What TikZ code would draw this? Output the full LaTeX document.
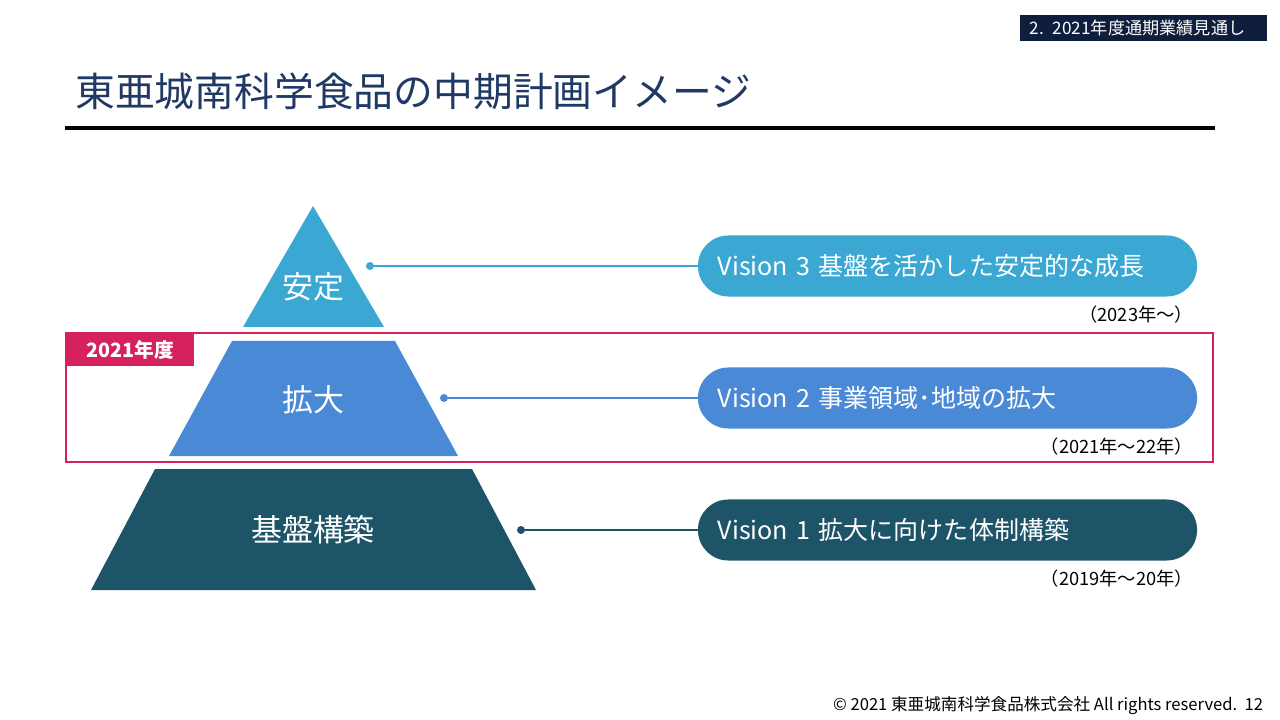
\documentclass[tikz,border=0pt]{standalone}
\usepackage{fontspec}
\setmainfont{Noto Sans CJK JP}
\definecolor{lvlthree}{RGB}{59,168,212}
\definecolor{lvltwo}{RGB}{74,137,214}
\definecolor{lvlone}{RGB}{30,84,104}
\definecolor{titleblue}{RGB}{31,56,100}
\definecolor{hdrnavy}{RGB}{15,30,60}
\definecolor{markred}{RGB}{214,34,92}
\tikzset{
  pill/.style={rounded corners=0.76cm, minimum width=12.475cm, minimum height=1.525cm,
    inner xsep=0.5cm, text width=11.475cm, align=left, text=white, font=\fontsize{17.8}{20}\selectfont},
  lvltext/.style={text=white, font=\fontsize{22}{26}\selectfont},
  period/.style={anchor=east, font=\fontsize{13}{15}\selectfont},
  link/.style={line width=1pt}
}
\begin{document}
\begin{tikzpicture}[x=0.025cm, y=-0.025cm]
        \useasboundingbox (0,0) rectangle (1280,720);
        % Header tag and title
        \node[fill=hdrnavy, text=white, minimum width=6.175cm, minimum height=0.6cm, inner xsep=0.25cm,
              text width=5.675cm, align=left, font=\fontsize{12.2}{14}\selectfont] (hdr) at (1143.5,28) {2. 2021年度通期業績見通し};
        \node[anchor=base west, inner sep=0, text=titleblue, font=\fontsize{28.3}{32}\selectfont] (title) at (75,107) {東亜城南科学食品の中期計画イメージ};
        \draw[line width=2.5pt] (65,128) -- (1215,128);

        % Pyramid levels
        \fill[lvlthree] (313,206) -- (384,327) -- (243,327) -- cycle;
        \fill[lvltwo] (232,341) -- (395,341) -- (458,456) -- (169,456) -- cycle;
        \fill[lvlone] (155,469) -- (472,469) -- (536,590) -- (91,590) -- cycle;
        \node[lvltext] (stab) at (313,287) {安定};
        \node[lvltext] (expd) at (313,400) {拡大};
        \node[lvltext] (base) at (313,530) {基盤構築};

        % Current year frame
        \draw[markred, line width=1.5pt] (66,333) rectangle (1213,462);
        \node[anchor=north west, fill=markred, text=white, minimum width=3.2cm, minimum height=0.825cm,
              font=\bfseries\fontsize{14}{16}\selectfont] (yeartag) at (66,333) {2021年度};

        % Visions with connectors
        \foreach \id/\y/\px/\col/\txt/\per in {
            3/266/370/lvlthree/{Vision 3 基盤を活かした安定的な成長}/{（2023年～）},
            2/398/444/lvltwo/{Vision 2 事業領域･地域の拡大}/{（2021年～22年）},
            1/530/521/lvlone/{Vision 1 拡大に向けた体制構築}/{（2019年～20年）}} {
            \node[pill, fill=\col] (vis\id) at (947.5,\y) {\txt};
            \coordinate (dot\id) at (\px,\y);
            \fill[\col] (dot\id) circle (4);
            \draw[link, \col] (dot\id) -- (vis\id.west);
            \node[period] (per\id) at (1198,\y+49) {\per};
        }

        % Footer
        \node[anchor=east, font=\fontsize{11.8}{14}\selectfont] (foot) at (1268,706) {© 2021 東亜城南科学食品株式会社 All rights reserved.~~12};
    \end{tikzpicture}
\end{document}
